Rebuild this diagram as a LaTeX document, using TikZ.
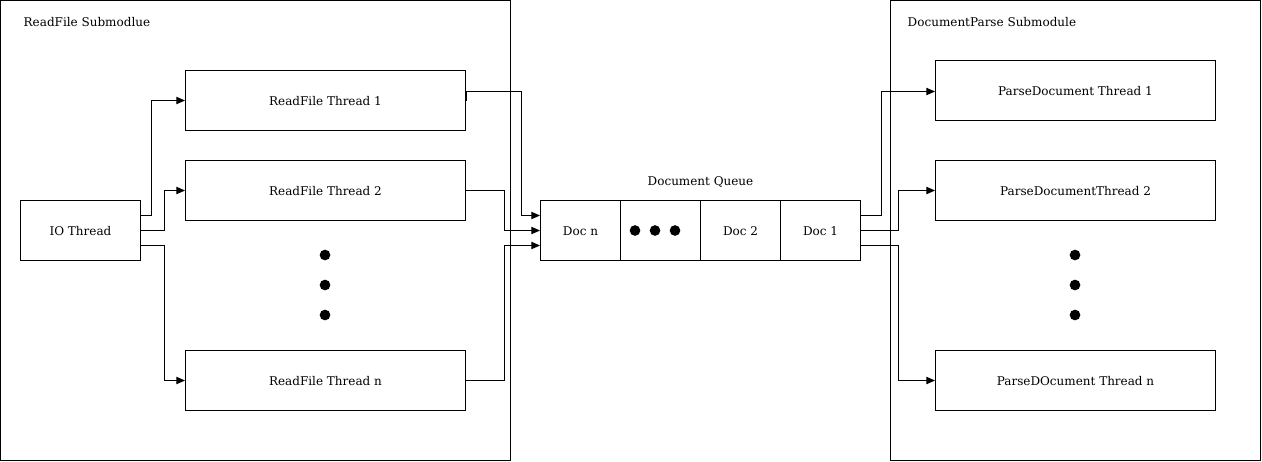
\documentclass[tikz,border=0pt]{standalone}
\usepackage{fontspec}
\setmainfont{DejaVu Serif}
\usetikzlibrary{arrows.meta}
\usetikzlibrary{calc}

\begin{document}
\begin{tikzpicture}[x=0.75pt, y=-0.75pt,
    every node/.style={font=\fontsize{9}{11}\selectfont},
    box/.style={draw, line width=0.75pt, minimum width=210pt, minimum height=45pt, inner sep=0pt, text height=8pt, text depth=0pt},
    cell/.style={draw, line width=0.75pt, minimum width=60pt, minimum height=45pt, inner sep=0pt, text height=8pt, text depth=0pt},
    arr/.style={line width=0.75pt, -{Triangle[length=6.5pt, width=5.5pt]}},
    dot/.style={circle, fill, inner sep=0pt, minimum size=8pt}]
  \useasboundingbox (0,0) rectangle (1262,461);

  % submodule frames
  \draw[line width=0.75pt] (0.5,0.5) rectangle (510.5,460.5);
  \draw[line width=0.75pt] (890.5,0.5) rectangle (1260.5,460.5);
  \node[anchor=west] (rtitle) at (19,22) {ReadFile Submodlue};
  \node[anchor=west] (ptitle) at (903,22) {DocumentParse Submodule};

  \node[draw, line width=0.75pt, minimum width=90pt, minimum height=45pt, inner sep=0pt, text height=8pt, text depth=0pt] (io) at (80.5,230.5) {IO Thread};

  \node[box] (rt1) at (325.5,100.5) {ReadFile Thread 1};
  \node[box] (rt2) at (325.5,190.5) {ReadFile Thread 2};
  \node[box] (rtn) at (325.5,380.5) {ReadFile Thread n};
  \node[dot] (rd1) at (325,255) {};
  \node[dot] (rd2) at (325,285) {};
  \node[dot] (rd3) at (325,315) {};

  \node (qtitle) at (700.5,182) {Document Queue};
  \node[cell] (docn) at (580.5,230.5) {Doc n};
  \node[cell] (qdots) at (660.5,230.5) {};
  \node[cell] (doc2) at (740.5,230.5) {Doc 2};
  \node[cell] (doc1) at (820.5,230.5) {Doc 1};
  \node[dot] (qd1) at (635,230.5) {};
  \node[dot] (qd2) at (655,230.5) {};
  \node[dot] (qd3) at (675,230.5) {};

  \node[box] (pt1) at (1075.5,90.5) {ParseDocument Thread 1};
  \node[box] (pt2) at (1075.5,190.5) {ParseDocumentThread 2};
  \node[box] (ptn) at (1075.5,380.5) {ParseDOcument Thread n};
  \node[dot] (pd1) at (1075,255) {};
  \node[dot] (pd2) at (1075,285) {};
  \node[dot] (pd3) at (1075,315) {};

  \draw[arr] ($(io.east)+(0,-15)$) -- ++(10,0) |- (rt1.west);
  \draw[arr] (io.east) -- ++(23,0) |- (rt2.west);
  \draw[arr] ($(io.east)+(0,15)$) -- ++(23,0) |- (rtn.west);

  \draw[arr] (rt1.east) -- ++(0,-9) -- ++(55,0) |- ($(docn.west)+(0,-15)$);
  \draw[arr] (rt2.east) -- ++(38,0) |- (docn.west);
  \draw[arr] (rtn.east) -- ++(38,0) |- ($(docn.west)+(0,15)$);

  \draw[arr] ($(doc1.east)+(0,-15)$) -- ++(20,0) |- ($(pt1.west)+(0,1)$);
  \draw[arr] (doc1.east) -- ++(37,0) |- (pt2.west);
  \draw[arr] ($(doc1.east)+(0,15)$) -- ++(37,0) |- (ptn.west);
\end{tikzpicture}
\end{document}
